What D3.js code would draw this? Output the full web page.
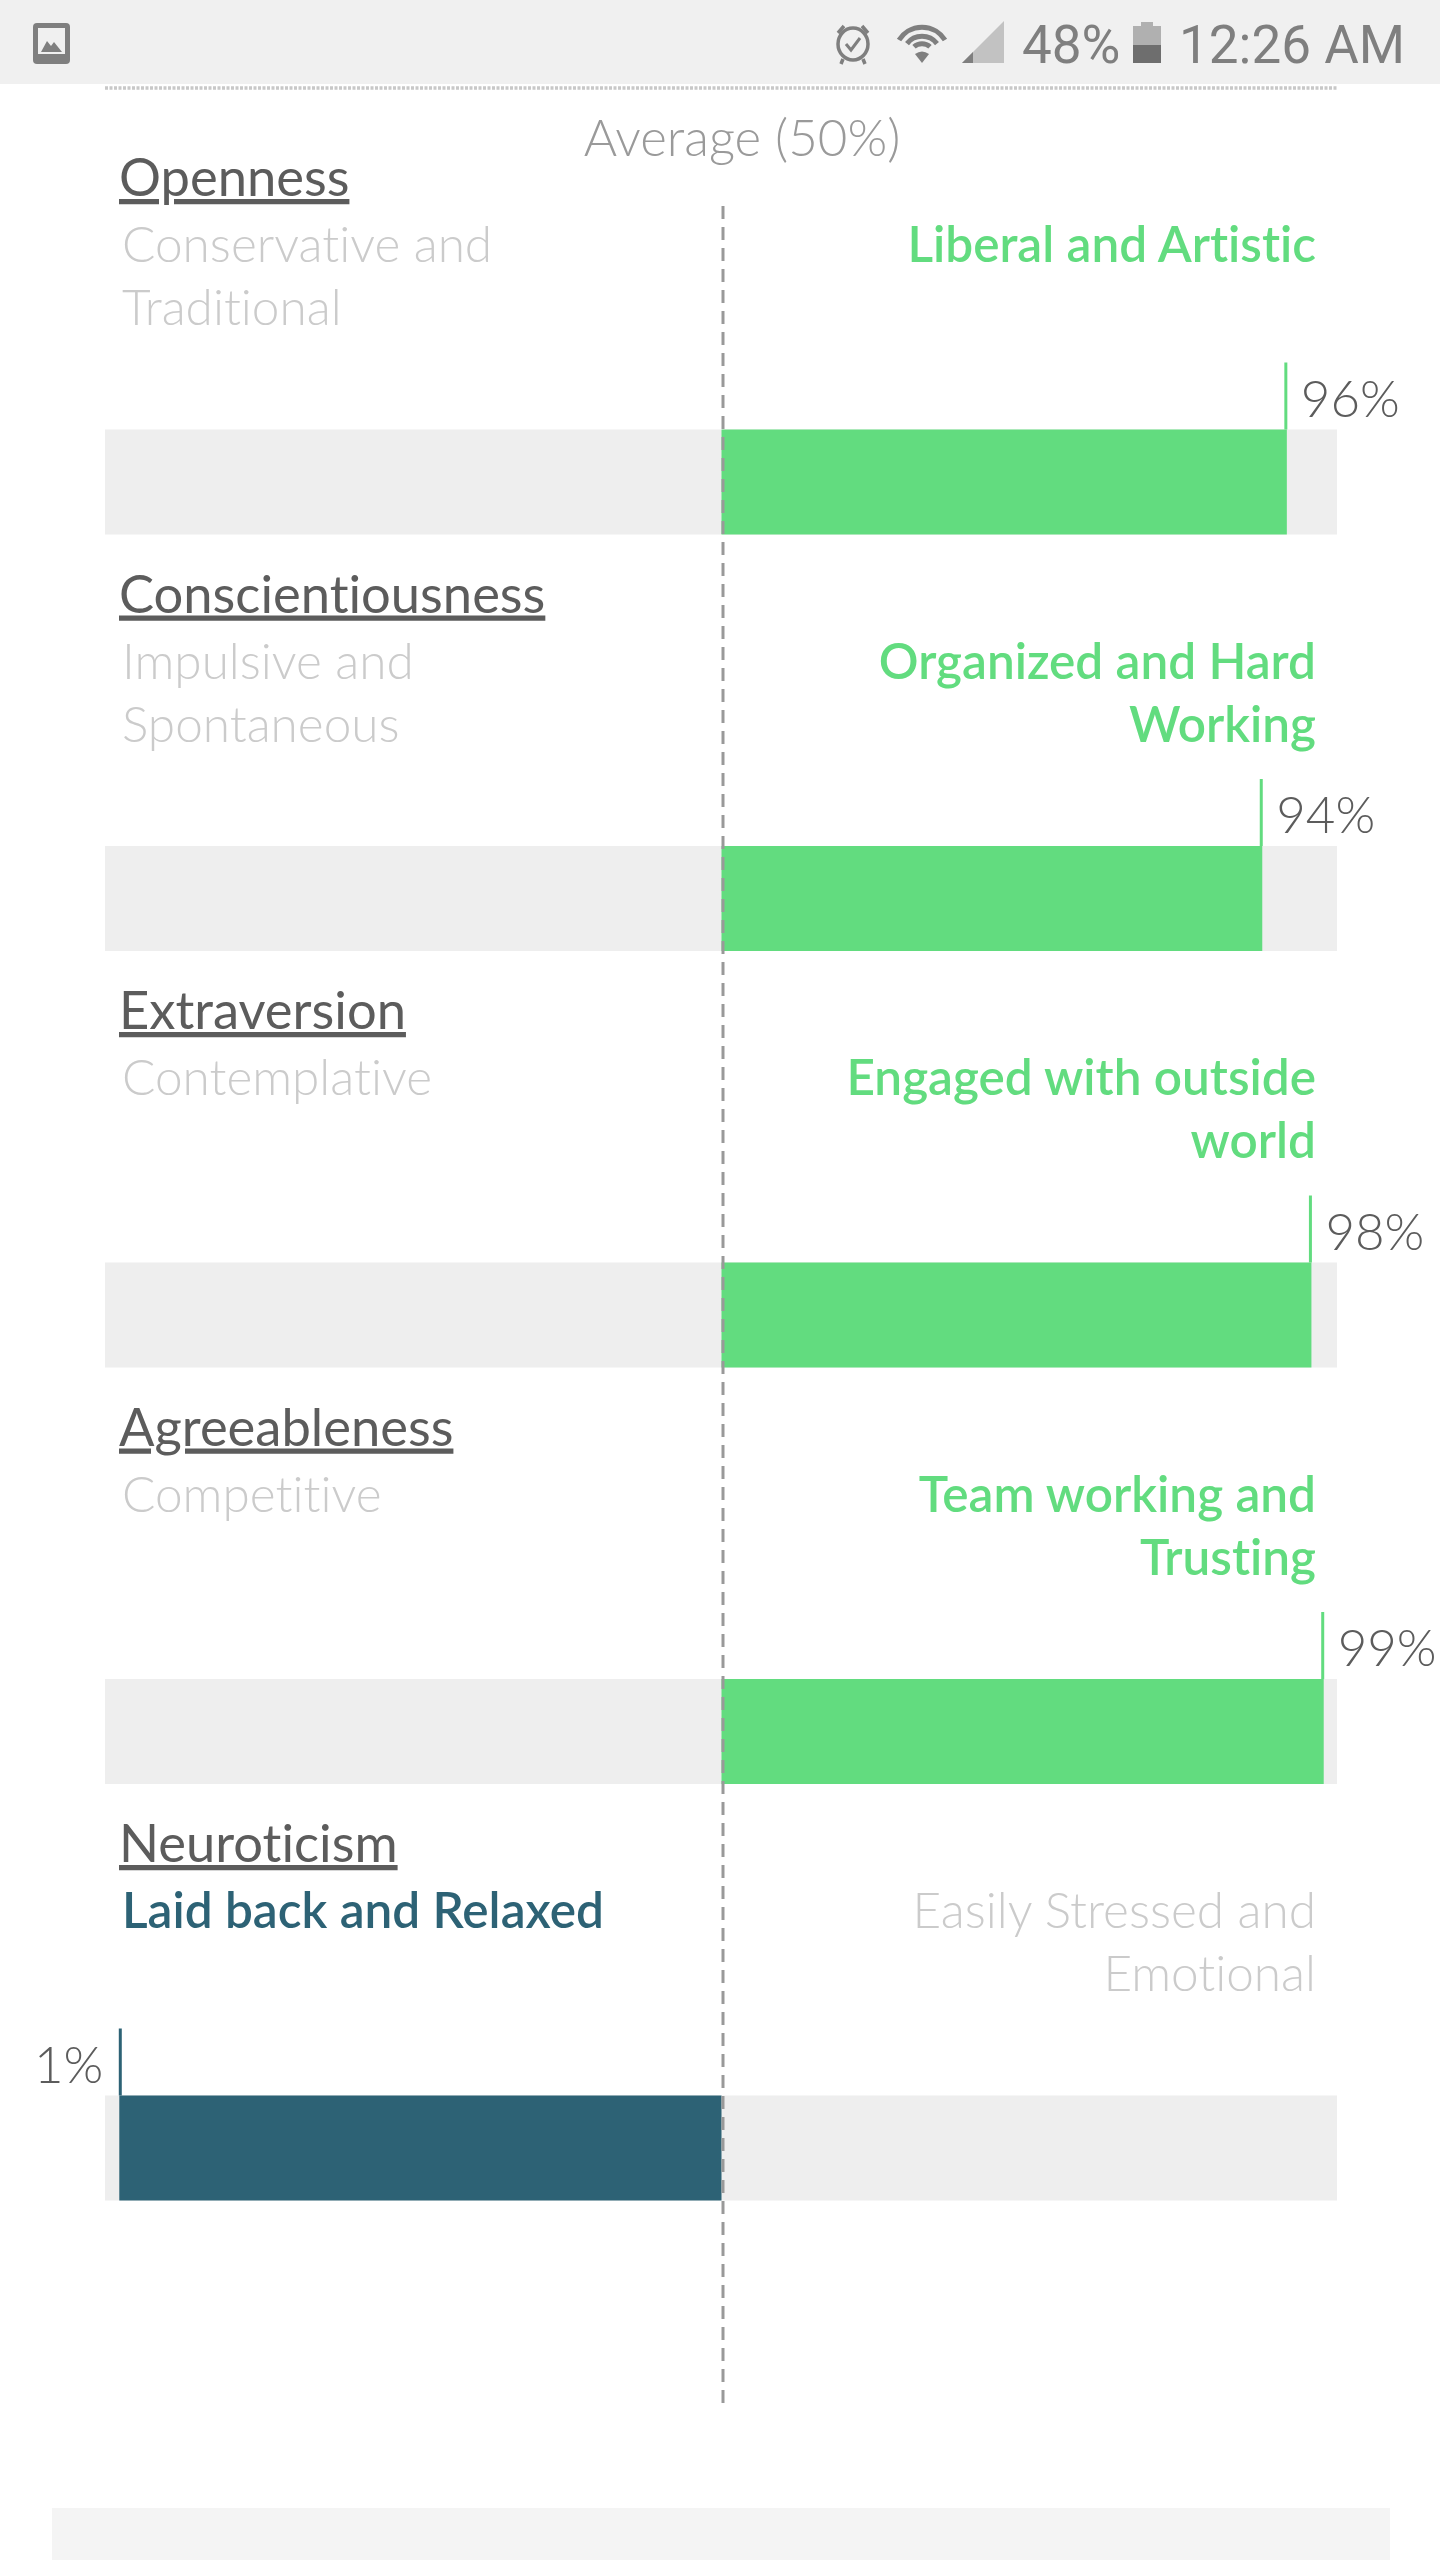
<!DOCTYPE html>
<html><head><meta charset="utf-8">
<script src="https://d3js.org/d3.v7.min.js"></script>
<style>html,body{margin:0;padding:0;background:#fff}svg{display:block}text{font-variant-ligatures:none}</style>
</head><body><div id="c"></div>
<script>
const traits = ["Openness","Conscientiousness","Extraversion","Agreeableness","Neuroticism"];
const values = [96,94,98,99,1];
const leftLabels = [["Conservative and","Traditional"],["Impulsive and","Spontaneous"],["Contemplative"],["Competitive"],["Laid back and Relaxed"]];
const rightLabels = [["Liberal and Artistic"],["Organized and Hard","Working"],["Engaged with outside","world"],["Team working and","Trusting"],["Easily Stressed and","Emotional"]];
const averageLabel = "Average (50%)";
const statusText = ["48%","12:26 AM"];

const W=1440,H=2560;
const GREEN="#62dc7f",TEAL="#2d6275",TRACK="#eeeeee",MUTED="#cbcbcb",HEAD="#5c5c5c";
const FONT="Lato, 'Open Sans', sans-serif";
const svg=d3.select("#c").append("svg").attr("width",W).attr("height",H).attr("viewBox",`0 0 ${W} ${H}`);
const x=d3.scaleLinear().domain([0,100]).range([107,1336]);
const y=d3.scaleBand().domain(traits).range([429.5,429.5+416.5*5]).paddingInner(0);
const barH=105;

// status bar
svg.append("rect").attr("width",W).attr("height",84).attr("fill","#f0f0f0");
const ic="#7f7f7f";
svg.append("rect").attr("x",33).attr("y",23).attr("width",37).attr("height",41).attr("rx",4).attr("fill",ic);
svg.append("rect").attr("x",38).attr("y",28).attr("width",27).attr("height",26).attr("fill","#f0f0f0");
svg.append("path").attr("d","M41 52 L47 41 L51 46 L54 42 L62 52 Z").attr("fill",ic);
// alarm
const a=svg.append("g").attr("fill","none").attr("stroke",ic);
a.append("ellipse").attr("cx",853).attr("cy",44).attr("rx",15).attr("ry",16).attr("stroke-width",3.5);
a.append("path").attr("d","M846 44 L851 50 L860 38").attr("stroke-width",3);
a.append("path").attr("d","M838 33 L844 26 M868 33 L862 26 M843 59 L841 64 M863 59 L865 64").attr("stroke-width",3.5);
// wifi
const wf=svg.append("g").attr("fill","none").attr("stroke",ic).attr("stroke-width",5);
[23,15,8].forEach(r=>wf.append("path").attr("d",`M${922-r} ${40+(23-r)*0.45} A${r+4} ${r+4} 0 0 1 ${922+r} ${40+(23-r)*0.45}`));
svg.append("path").attr("d","M922 63 L915 54 Q922 49 929 54 Z").attr("fill",ic);
// signal
svg.append("path").attr("d","M962 63 L1004 21 V63 Z").attr("fill","#c2c2c2");
svg.append("path").attr("d","M962 63 L973 52 V63 Z").attr("fill",ic);
// battery
svg.append("rect").attr("x",1133).attr("y",26).attr("width",28).attr("height",19).attr("fill","#b0b0b0");
svg.append("rect").attr("x",1141).attr("y",22).attr("width",12).attr("height",4).attr("fill","#b0b0b0");
svg.append("rect").attr("x",1133).attr("y",45).attr("width",28).attr("height",18).attr("fill","#6e6e6e");
svg.append("text").attr("x",1022).attr("y",63).attr("font-family","Roboto").attr("font-size",53).attr("fill",ic).text(statusText[0]);
svg.append("text").attr("x",1405).attr("y",63).attr("text-anchor","end").attr("font-family","Roboto").attr("font-size",53).attr("fill",ic).text(statusText[1]);

// dotted rule
svg.append("line").attr("x1",105).attr("x2",1337).attr("y1",88).attr("y2",88).attr("stroke","#c8c8c8").attr("stroke-width",3.5).attr("stroke-dasharray","3 1.5");

// bottom panel
svg.append("rect").attr("x",52).attr("y",2508).attr("width",1338).attr("height",52).attr("fill","#f4f4f4");

svg.append("text").attr("x",742).attr("y",156).attr("text-anchor","middle").attr("font-family",FONT).attr("font-weight",300).attr("font-size",51).attr("fill","#9a9a9a").text(averageLabel);

const rows=svg.selectAll("g.row").data(traits.map((t,i)=>({t,v:values[i],l:leftLabels[i],r:rightLabels[i]}))).join("g").attr("class","row")
  .attr("transform",d=>`translate(0,${y(d.t)})`);
rows.append("rect").attr("x",105).attr("width",1232).attr("height",barH).attr("fill",TRACK);
rows.append("rect").attr("x",d=>Math.min(x(50),x(d.v))).attr("width",d=>Math.abs(x(d.v)-x(50))).attr("height",barH).attr("fill",d=>d.v>=50?GREEN:TEAL);
rows.append("line").attr("x1",d=>d.v>=50?x(d.v)-1:x(d.v)+1).attr("x2",d=>d.v>=50?x(d.v)-1:x(d.v)+1).attr("y1",-67).attr("y2",0).attr("stroke",d=>d.v>=50?GREEN:TEAL).attr("stroke-width",3);
rows.append("text").attr("x",d=>d.v>=50?x(d.v)+14:x(d.v)-16).attr("y",-13).attr("text-anchor",d=>d.v>=50?"start":"end")
  .attr("font-family",FONT).attr("font-weight",300).attr("font-size",51).attr("fill",HEAD).text(d=>d.v+"%");
rows.append("text").attr("x",119).attr("y",-233.5).attr("font-family",FONT).attr("font-size",52.5).attr("fill",HEAD).attr("text-decoration","underline").text(d=>d.t);
rows.each(function(d){
  const g=d3.select(this);
  const strong=d.v>=50?"r":"l";
  [["l",122,"start"],["r",1316,"end"]].forEach(([k,px,anch])=>{
    g.selectAll("text.t"+k).data(d[k]).join("text").attr("class","t"+k).attr("x",px).attr("y",(s,i)=>-167.5+i*63)
     .attr("text-anchor",anch).attr("font-family",FONT).attr("font-size",49.5)
     .attr("font-weight",k===strong?600:300)
     .attr("fill",k===strong?(d.v>=50?GREEN:TEAL):MUTED).text(s=>s);
  });
});
svg.append("line").attr("x1",723).attr("x2",723).attr("y1",206).attr("y2",2403).attr("stroke","#999").attr("stroke-width",3).attr("stroke-dasharray","13 8");
</script></body></html>
